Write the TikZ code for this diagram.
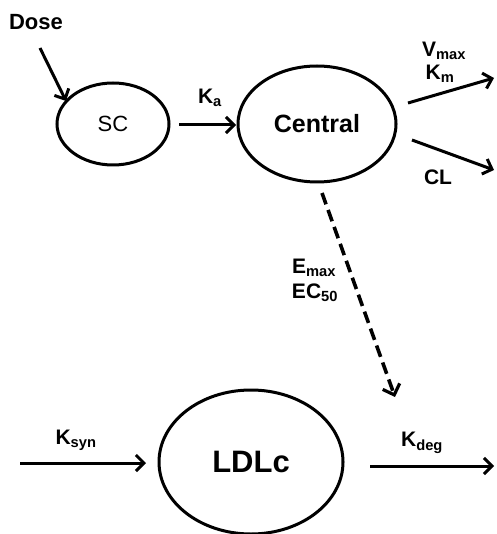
\documentclass[tikz,border=0pt]{standalone}
\usepackage{fontspec}
\setmainfont{Liberation Sans}
\usetikzlibrary{arrows.meta,shapes.geometric}
\begin{document}
\begin{tikzpicture}[x=1pt,y=-1pt,
  comp/.style={draw,ellipse,line width=3pt,inner sep=0pt},
  flow/.style={line width=3pt,-{Straight Barb[length=8pt,width=16pt,line width=3pt]}},
  lbl/.style={font=\fontsize{21}{23}\selectfont\bfseries,inner sep=0pt}]
\useasboundingbox (0,0) rectangle (496,534);
\node[comp,minimum width=112pt,minimum height=82pt,font=\fontsize{22}{24}\selectfont] (sc) at (113,124) {SC};
\node[comp,minimum width=158pt,minimum height=116pt,font=\fontsize{25}{27}\selectfont\bfseries] (central) at (317,124) {Central};
\node[comp,minimum width=184pt,minimum height=144pt,font=\fontsize{31}{33}\selectfont\bfseries] (ldl) at (251,462) {LDLc};
\node[font=\fontsize{22}{24}\selectfont\bfseries,inner sep=0pt] (dose) at (36,22) {Dose};
\coordinate (dosestart) at (40,48);
\draw[flow] (dosestart) -- (66,101);
\coordinate (kastart) at (179,125);
\coordinate (kaend) at (236,125);
\draw[flow] (kastart) -- (kaend);
\node[lbl] (ka) at (210,98) {K\textsubscript{a}};
\coordinate (vs) at (408,103);
\coordinate (ve) at (494,78);
\draw[flow] (vs) -- (ve);
\node[lbl] (vmax) at (444,51) {V\textsubscript{max}};
\node[lbl] (km) at (440,74) {K\textsubscript{m}};
\coordinate (cs) at (412,140);
\coordinate (ce) at (494,170);
\draw[flow] (cs) -- (ce);
\node[lbl] (cl) at (438,177) {CL};
\coordinate (es) at (322,193);
\coordinate (ee) at (395,397);
\draw[line width=3.6pt,dash pattern=on 12pt off 6pt,-{Straight Barb[length=9pt,width=18pt,line width=3.2pt]}] (es) -- (ee);
\node[lbl] (emax) at (314,268) {E\textsubscript{max}};
\node[lbl] (ec) at (315,293) {EC\textsubscript{50}};
\coordinate (ss) at (20,463);
\coordinate (se) at (146,463);
\draw[flow] (ss) -- (se);
\node[lbl] (ksyn) at (76,440) {K\textsubscript{syn}};
\coordinate (ds) at (370,466);
\coordinate (de) at (494,466);
\draw[flow] (ds) -- (de);
\node[lbl] (kdeg) at (422,443) {K\textsubscript{deg}};
\end{tikzpicture}
\end{document}
